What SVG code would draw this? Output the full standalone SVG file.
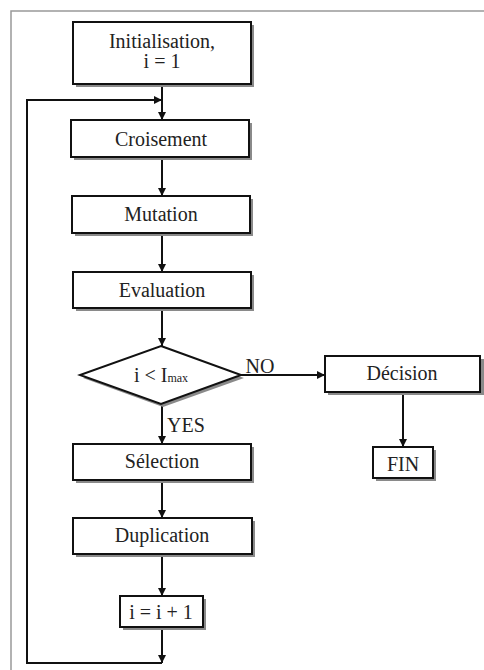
<svg xmlns="http://www.w3.org/2000/svg" width="484" height="670" viewBox="0 0 484 670" font-family="Liberation Serif, Times New Roman, serif">
<style>
.box{fill:#fff;stroke:#111;stroke-width:2}
.sh{fill:#8a8a8a}
.t{font-size:20px;fill:#222;text-anchor:middle}
.c{fill:none;stroke:#111;stroke-width:2}
</style>
<defs>
<marker id="ah" viewBox="0 0 10 10" refX="10" refY="5" markerWidth="9" markerHeight="8" markerUnits="userSpaceOnUse" orient="auto">
<path d="M0,0 L10,5 L0,10 z" fill="#111"/>
</marker>
</defs>
<rect width="484" height="670" fill="#fff"/>
<path d="M11,671 V11 H485" fill="none" stroke="#999" stroke-width="1.5"/>
<g id="connectors">
<path class="c" d="M162,84 V120" marker-end="url(#ah)"/>
<path class="c" d="M162,663 H27 V100 H162" marker-end="url(#ah)"/>
<path class="c" d="M162,157 V196" marker-end="url(#ah)"/>
<path class="c" d="M162,233 V272" marker-end="url(#ah)"/>
<path class="c" d="M162,308 V346" marker-end="url(#ah)"/>
<path class="c" d="M241,375 H325" marker-end="url(#ah)"/>
<path class="c" d="M162,404 V444" marker-end="url(#ah)"/>
<path class="c" d="M403,392 V447" marker-end="url(#ah)"/>
<path class="c" d="M162,480 V518" marker-end="url(#ah)"/>
<path class="c" d="M162,554 V596" marker-end="url(#ah)"/>
<path class="c" d="M162,627 V663" marker-end="url(#ah)"/>
<text class="t" x="260" y="373">NO</text>
<text class="t" x="186" y="432" font-size="19">YES</text>
</g>
<g id="init">
<rect class="sh" x="76" y="25" width="178" height="62"/>
<rect class="box" x="73" y="22" width="178" height="62"/>
<text class="t" x="162" y="48">Initialisation,</text>
<text class="t" x="162" y="68">i = 1</text>
</g>
<g id="croisement">
<rect class="sh" x="74" y="123" width="178" height="37"/>
<rect class="box" x="71" y="120" width="178" height="37"/>
<text class="t" x="161" y="146">Croisement</text>
</g>
<g id="mutation">
<rect class="sh" x="75" y="199" width="178" height="37"/>
<rect class="box" x="72" y="196" width="178" height="37"/>
<text class="t" x="161" y="221">Mutation</text>
</g>
<g id="evaluation">
<rect class="sh" x="76" y="275" width="178" height="36"/>
<rect class="box" x="73" y="272" width="178" height="36"/>
<text class="t" x="162" y="297">Evaluation</text>
</g>
<g id="decision-test">
<polygon points="163,349 244,378 163,407 83,378" class="sh"/>
<polygon points="161,346 241,375 161,404 80,375" class="box"/>
<text class="t" x="161" y="382">i &lt; I<tspan font-size="12">max</tspan></text>
</g>
<g id="decision">
<rect class="sh" x="328" y="359" width="156" height="36"/>
<rect class="box" x="325" y="356" width="155" height="36"/>
<text class="t" x="402" y="380">Décision</text>
</g>
<g id="fin">
<rect class="sh" x="376" y="450" width="60" height="31"/>
<rect class="box" x="373" y="447" width="60" height="31"/>
<text class="t" x="403" y="471" font-size="18">FIN</text>
</g>
<g id="selection">
<rect class="sh" x="76" y="447" width="178" height="36"/>
<rect class="box" x="73" y="444" width="178" height="36"/>
<text class="t" x="162" y="468">Sélection</text>
</g>
<g id="duplication">
<rect class="sh" x="76" y="521" width="179" height="36"/>
<rect class="box" x="73" y="518" width="179" height="36"/>
<text class="t" x="162" y="542">Duplication</text>
</g>
<g id="increment">
<rect class="sh" x="123" y="599" width="83" height="31"/>
<rect class="box" x="120" y="596" width="83" height="31"/>
<text class="t" x="161" y="619">i = i + 1</text>
</g>
</svg>
